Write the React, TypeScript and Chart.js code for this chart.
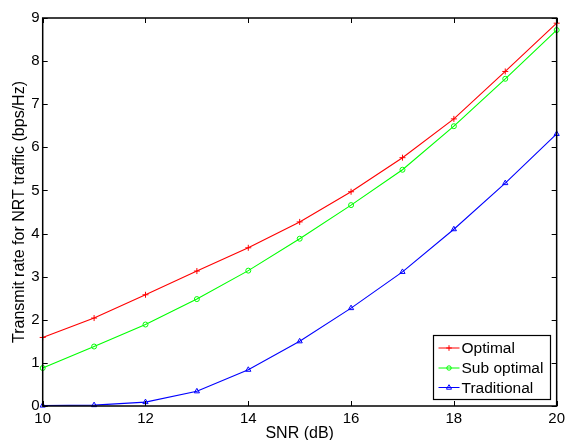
import React, { useEffect, useRef } from "react";
import { Chart, registerables } from "chart.js";

Chart.register(...registerables);

const snr = [10, 11, 12, 13, 14, 15, 16, 17, 18, 19, 20];
const optimal = [1.59, 2.04, 2.58, 3.13, 3.67, 4.27, 4.97, 5.76, 6.66, 7.76, 8.88];
const subOptimal = [0.88, 1.38, 1.89, 2.48, 3.14, 3.88, 4.66, 5.48, 6.49, 7.59, 8.72];
const traditional = [0.01, 0.02, 0.09, 0.34, 0.84, 1.5, 2.27, 3.11, 4.1, 5.17, 6.31];
const seriesNames = ["Optimal", "Sub optimal", "Traditional"];
const xTicks = [10, 12, 14, 16, 18, 20];
const yTicks = [0, 1, 2, 3, 4, 5, 6, 7, 8, 9];
const xTitle = "SNR (dB)";
const yTitle = "Transmit rate for NRT traffic (bps/Hz)";

const FONT = "'Liberation Sans', Arial, Helvetica, sans-serif";

function drawMarker(ctx: CanvasRenderingContext2D, style: string, x: number, y: number, r: number) {
  ctx.beginPath();
  if (style === "cross") {
    ctx.moveTo(x - r, y);
    ctx.lineTo(x + r, y);
    ctx.moveTo(x, y - r);
    ctx.lineTo(x, y + r);
  } else if (style === "circle") {
    ctx.arc(x, y, r, 0, Math.PI * 2);
  } else {
    ctx.moveTo(x, y - r);
    ctx.lineTo(x + r * 0.9, y + r * 0.6);
    ctx.lineTo(x - r * 0.9, y + r * 0.6);
    ctx.closePath();
  }
  ctx.stroke();
}

const framePlugin = {
  id: "frame",
  afterDraw(chart: any) {
    const { ctx, chartArea: a, scales } = chart;
    ctx.save();
    ctx.strokeStyle = "#000";
    ctx.lineWidth = 1.5;
    ctx.strokeRect(a.left, a.top, a.right - a.left, a.bottom - a.top);
    ctx.lineWidth = 1;
    const tl = 5;
    ctx.beginPath();
    xTicks.forEach((v) => {
      const px = Math.round(scales.x.getPixelForValue(v)) + 0.5;
      ctx.moveTo(px, a.bottom);
      ctx.lineTo(px, a.bottom - tl);
      ctx.moveTo(px, a.top);
      ctx.lineTo(px, a.top + tl);
    });
    yTicks.forEach((v) => {
      const py = Math.round(scales.y.getPixelForValue(v)) + 0.5;
      ctx.moveTo(a.left, py);
      ctx.lineTo(a.left + tl, py);
      ctx.moveTo(a.right, py);
      ctx.lineTo(a.right - tl, py);
    });
    ctx.stroke();

    // axis titles
    ctx.fillStyle = "#000";
    ctx.font = `16px ${FONT}`;
    ctx.textAlign = "center";
    ctx.textBaseline = "alphabetic";
    ctx.fillText(xTitle, (a.left + a.right) / 2, 438);
    ctx.save();
    ctx.translate(24, (a.top + a.bottom) / 2);
    ctx.rotate(-Math.PI / 2);
    ctx.fillText(yTitle, 0, 0);
    ctx.restore();

    // legend
    const bw = 117, bh = 64;
    const bx = Math.round(a.right - 7 - bw) + 0.5;
    const by = Math.round(a.bottom - 7 - bh) + 0.5;
    ctx.fillStyle = "#fff";
    ctx.fillRect(bx, by, bw, bh);
    ctx.strokeStyle = "#000";
    ctx.lineWidth = 1.2;
    ctx.strokeRect(bx, by, bw, bh);
    const rows = [12.5, 32.5, 52];
    chart.data.datasets.forEach((ds: any, i: number) => {
      const y = by + rows[i];
      ctx.strokeStyle = ds.borderColor;
      ctx.lineWidth = 1;
      ctx.beginPath();
      ctx.moveTo(bx + 5, y);
      ctx.lineTo(bx + 26, y);
      ctx.stroke();
      drawMarker(ctx, ds.pointStyle, bx + 15.5, y, ds.pointStyle === "circle" ? 2.2 : 2.8);
      ctx.fillStyle = "#000";
      ctx.font = `15.5px ${FONT}`;
      ctx.textAlign = "left";
      ctx.textBaseline = "middle";
      ctx.fillText(ds.label, bx + 28, y + 1);
    });
    ctx.restore();
  },
};

export default function App() {
  const ref = useRef<HTMLCanvasElement | null>(null);
  useEffect(() => {
    if (!ref.current) return;
    const mk = (vals: number[]) => vals.map((v, i) => ({ x: snr[i], y: v }));
    const common = {
      borderWidth: 1.1,
      pointBorderWidth: 1,
      pointBackgroundColor: "rgba(0,0,0,0)",
      tension: 0,
      fill: false,
      clip: false as any,
    };
    const chart = new Chart(ref.current, {
      type: "line",
      data: {
        datasets: [
          { ...common, label: seriesNames[0], data: mk(optimal), borderColor: "#ff0000", pointBorderColor: "#ff0000", pointStyle: "cross", pointRadius: 3 },
          { ...common, label: seriesNames[1], data: mk(subOptimal), borderColor: "#00ff00", pointBorderColor: "#00ff00", pointStyle: "circle", pointRadius: 2.5 },
          { ...common, label: seriesNames[2], data: mk(traditional), borderColor: "#0000ff", pointBorderColor: "#0000ff", pointStyle: "triangle", pointRadius: 3 },
        ],
      },
      options: {
        animation: false,
        responsive: false,
        events: [],
        layout: { padding: { left: 0, top: 18, right: 10.3, bottom: 0 } },
        plugins: { legend: { display: false }, tooltip: { enabled: false } },
        scales: {
          x: {
            type: "linear",
            min: 10,
            max: 20,
            afterFit: (s: any) => { s.height = 34; },
            afterBuildTicks: (s: any) => { s.ticks = xTicks.map((v) => ({ value: v })); },
            grid: { display: false, drawTicks: false },
            border: { display: false },
            ticks: { font: { size: 15, family: FONT }, color: "#000", padding: 4, maxRotation: 0 },
          },
          y: {
            type: "linear",
            min: 0,
            max: 9,
            afterFit: (s: any) => { s.width = 42.7; },
            afterBuildTicks: (s: any) => { s.ticks = yTicks.map((v) => ({ value: v })); },
            grid: { display: false, drawTicks: false },
            border: { display: false },
            ticks: { font: { size: 15, family: FONT }, color: "#000", padding: 3 },
          },
        },
      },
      plugins: [framePlugin],
    });
    return () => chart.destroy();
  }, []);
  return (
    <div style={{ position: "fixed", left: 0, top: 0, width: 569, height: 440, background: "#fff" }}>
      <canvas ref={ref} width={569} height={440} style={{ width: 569, height: 440 }} />
    </div>
  );
}
